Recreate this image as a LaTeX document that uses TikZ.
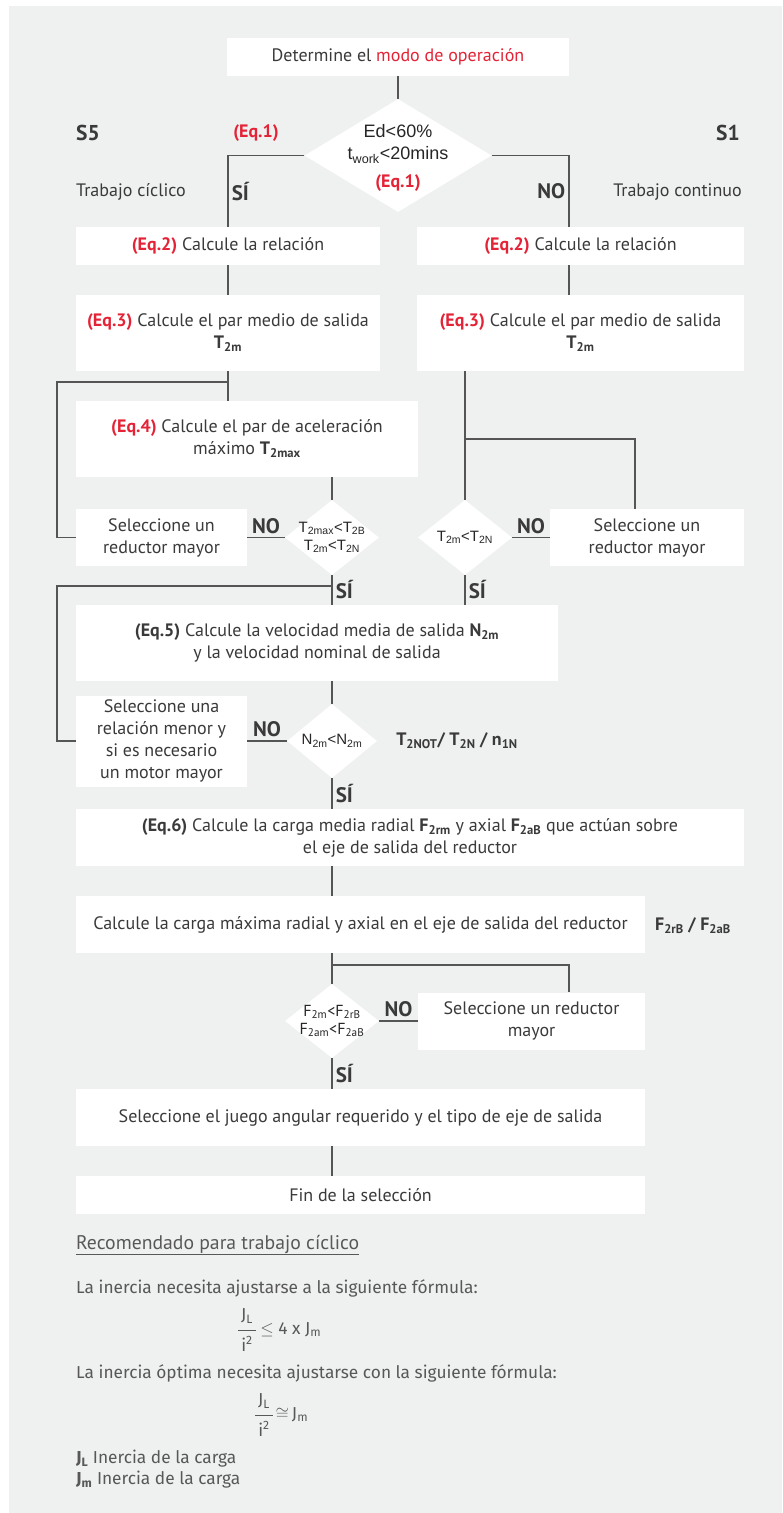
\documentclass[tikz,border=0pt]{standalone}
\usepackage{fontspec}
\setmainfont{PT Sans}
\newfontfamily\condfont{Liberation Sans}
\newfontfamily\notefont{Fira Sans}
\usepackage{tikz}
\usetikzlibrary{shapes.geometric}
\definecolor{bggray}{RGB}{239,240,240}
\definecolor{eqred}{RGB}{228,35,55}
\definecolor{txtgray}{RGB}{58,58,58}
\definecolor{linegray}{RGB}{85,85,85}
\definecolor{notegray}{RGB}{88,88,88}
\newcommand{\eqr}[1]{\textbf{\textcolor{eqred}{(Eq.#1)}}}
\newcommand{\eqg}[1]{\textbf{(Eq.#1)}}
\newcommand{\inertiafrac}{\renewcommand{\arraystretch}{1.5}\begin{tabular}{@{\,}c@{\,}}J\textsubscript{L}\\\hline i\textsuperscript{2}\end{tabular}}
\tikzstyle{stepbox}  = [rectangle, fill=white, inner sep=0pt, align=center, text=txtgray, font=\fontsize{18}{22}\selectfont]
\tikzstyle{decision} = [diamond, fill=white, inner sep=0pt]
\tikzstyle{cond}     = [inner sep=0pt, align=center, text=black!85, font=\condfont\fontsize{15}{18}\selectfont]
\tikzstyle{answer}   = [inner sep=3pt, text=txtgray, font=\bfseries\fontsize{21}{21}\selectfont]
\tikzstyle{side}     = [inner sep=0pt, text=txtgray, font=\fontsize{18}{22}\selectfont]
\tikzstyle{note}     = [anchor=west, inner sep=0pt, text=notegray, font=\notefont\fontsize{17.3}{20}\selectfont]
\tikzstyle{line}     = [draw=linegray, line width=1.5pt]

\begin{document}
\begin{tikzpicture}[x=1pt, y=-1pt]
    \useasboundingbox (0,0) rectangle (782,1513);
    \fill[bggray] (9,6) rectangle (782,1513);
    \coordinate (colR) at (569,0);
    \coordinate (loopA) at (57,382);
    \coordinate (joinA) at (228,382);
    \coordinate (joinR) at (465,439);
    \coordinate (loopB) at (57,586);
    \coordinate (joinB) at (332,586);
    \coordinate (joinF) at (332,965);

    \node[stepbox, minimum width=342pt, minimum height=38pt](start) at (398,57) {Determine el \textcolor{eqred}{modo de operación}};
    \node[decision, minimum width=187pt, minimum height=113pt](dmode) at (398,155.5) {};
    \node[cond, font=\condfont\fontsize{18}{22}\selectfont](dmodetxt) at (398,144) {Ed<60\%\\t\textsubscript{work}<20mins};
    \node[side](eqoneIn) at (398,183) {\eqr{1}};
    \node[side, font=\bfseries\fontsize{21.5}{22}\selectfont](sfive) at (88,133) {S5};
    \node[side](eqoneOut) at (256,133) {\eqr{1}};
    \node[side, font=\bfseries\fontsize{21.5}{22}\selectfont](sone) at (728,133) {S1};
    \node[side](cyclic) at (131,192) {Trabajo cíclico};
    \node[side](contin) at (677.5,192) {Trabajo continuo};

    \node[stepbox, minimum width=304pt, minimum height=38pt](eqtwoL) at (228,246) {\eqr{2} Calcule la relación};
    \node[stepbox, minimum width=327pt, minimum height=38pt](eqtwoR) at (580.5,246) {\eqr{2} Calcule la relación};
    \node[stepbox, minimum width=304pt, minimum height=76pt](eqthreeL) at (228,333) {\eqr{3} Calcule el par medio de salida\\\textbf{T\textsubscript{2m}}};
    \node[stepbox, minimum width=327pt, minimum height=76pt](eqthreeR) at (580.5,333) {\eqr{3} Calcule el par medio de salida\\\textbf{T\textsubscript{2m}}};
    \node[stepbox, minimum width=342pt, minimum height=76pt](eqfour) at (247,439) {\eqr{4} Calcule el par de aceleración\\máximo \textbf{T\textsubscript{2max}}};

    \node[decision, minimum width=94pt, minimum height=75pt](dtorqL) at (332,537.5) {};
    \node[cond](dtorqLtxt) at (332,537.5) {T\textsubscript{2max}<T\textsubscript{2B}\\T\textsubscript{2m}<T\textsubscript{2N}};
    \node[stepbox, minimum width=171pt, minimum height=57pt](selL) at (161.5,537.5) {Seleccione un\\reductor mayor};
    \node[decision, minimum width=94pt, minimum height=75pt](dtorqR) at (465,537.5) {};
    \node[cond](dtorqRtxt) at (465,537.5) {T\textsubscript{2m}<T\textsubscript{2N}};
    \node[stepbox, minimum width=194pt, minimum height=57pt](selR) at (647,537.5) {Seleccione un\\reductor mayor};

    \node[stepbox, minimum width=482pt, minimum height=76pt](eqfive) at (317,643) {\eqg{5} Calcule la velocidad media de salida \textbf{N\textsubscript{2m}}\\y la velocidad nominal de salida};
    \node[decision, minimum width=90pt, minimum height=74pt](dspeed) at (332,741) {};
    \node[cond](dspeedtxt) at (332,741) {N\textsubscript{2m}<N\textsubscript{2m}};
    \node[stepbox, minimum width=171pt, minimum height=91pt](selRel) at (161.5,741) {Seleccione una\\relación menor y\\si es necesario\\un motor mayor};
    \node[side](ratings) at (457,741) {\textbf{T\textsubscript{2NOT}/ T\textsubscript{2N} / n\textsubscript{1N}}};

    \node[stepbox, minimum width=668pt, minimum height=57pt](eqsix) at (410,837.5) {\eqg{6} Calcule la carga media radial \textbf{F\textsubscript{2rm}} y axial \textbf{F\textsubscript{2aB}} que actúan sobre\\el eje de salida del reductor};
    \node[stepbox, minimum width=569pt, minimum height=57pt](calc) at (360.5,924.5) {Calcule la carga máxima radial y axial en el eje de salida del reductor};
    \node[side](loads) at (693,926) {\textbf{F\textsubscript{2rB} / F\textsubscript{2aB}}};
    \node[decision, minimum width=94pt, minimum height=74pt](dload) at (332,1021) {};
    \node[cond, font=\fontsize{16}{18}\selectfont](dloadtxt) at (332,1021) {F\textsubscript{2m}<F\textsubscript{2rB}\\F\textsubscript{2am}<F\textsubscript{2aB}};
    \node[stepbox, minimum width=227pt, minimum height=57pt](selF) at (531.5,1021) {Seleccione un reductor\\mayor};
    \node[stepbox, minimum width=569pt, minimum height=57pt](backlash) at (360.5,1117.5) {Seleccione el juego angular requerido y el tipo de eje de salida};
    \node[stepbox, minimum width=569pt, minimum height=38pt](finish) at (360.5,1195) {Fin de la selección};

    \path[line](start) -- (dmode);
    \path[line](dmode.west) -| node[answer, pos=0.75, right]{SÍ}(eqtwoL.north);
    \path[line](dmode.east) -| node[answer, pos=0.75, left]{NO}(eqtwoR.north -| colR);
    \path[line](eqtwoL) -- (eqthreeL);
    \path[line](eqtwoR.south -| colR) -- (eqthreeR.north -| colR);
    \path[line](eqthreeL.south) -- (eqthreeL.south |- eqfour.north);
    \path[line](selL.west) -| (loopA) -- (joinA);
    \path[line](dtorqL.north |- eqfour.south) -- (dtorqL.north);
    \path[line](selL) -- node[answer, above]{NO}(dtorqL);
    \path[line](dtorqR.north |- eqthreeR.south) -- (dtorqR.north);
    \path[line](joinR) -| ([xshift=-12pt]selR.north);
    \path[line](dtorqR) -- node[answer, above]{NO}(selR);
    \path[line](dtorqL.south) -- node[answer, right]{SÍ}(dtorqL.south |- eqfive.north);
    \path[line](dtorqR.south) -- node[answer, right]{SÍ}(dtorqR.south |- eqfive.north);
    \path[line](selRel.west) -| (loopB) -- (joinB);
    \path[line](dspeed.north |- eqfive.south) -- (dspeed.north);
    \path[line](selRel) -- node[answer, above]{NO}(dspeed);
    \path[line](dspeed.south) -- node[answer, right]{SÍ}(dspeed.south |- eqsix.north);
    \path[line](dspeed.south |- eqsix.south) -- (dspeed.south |- calc.north);
    \path[line](dload.north |- calc.south) -- (dload.north);
    \path[line](joinF) -| (selF.north -| colR);
    \path[line](dload) -- node[answer, above]{NO}(selF);
    \path[line](dload.south) -- node[answer, right]{SÍ}(dload.south |- backlash.north);
    \path[line](dload.south |- backlash.south) -- (dload.south |- finish.north);

    \node[note, font=\fontsize{19.7}{24}\selectfont](recom) at (76,1245) {\underline{Recomendado para trabajo cíclico}};
    \node[note](ruleA) at (76,1288) {La inercia necesita ajustarse a la siguiente fórmula:};
    \node[note](formA) at (238,1330) {\inertiafrac\ $\leq$ 4 x J\textsubscript{m}};
    \node[note](ruleB) at (76,1373) {La inercia óptima necesita ajustarse con la siguiente fórmula:};
    \node[note](formB) at (255,1415) {\inertiafrac\,$\cong$\,J\textsubscript{m}};
    \node[note](legL) at (76,1459) {\textbf{J\textsubscript{L}} Inercia de la carga};
    \node[note](legM) at (76,1480) {\textbf{J\textsubscript{m}} Inercia de la carga};
\end{tikzpicture}
\end{document}
